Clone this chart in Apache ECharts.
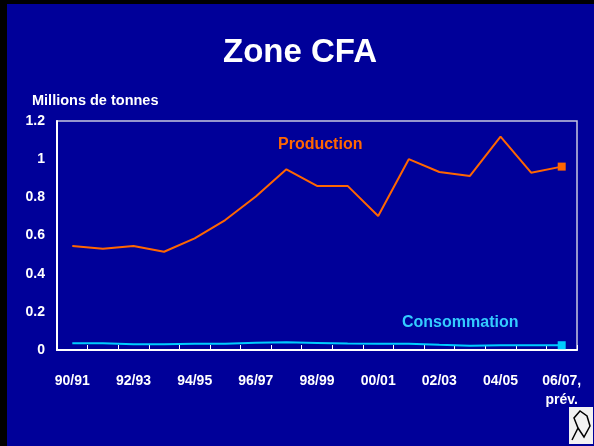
<!DOCTYPE html>
<html>
<head>
<meta charset="utf-8">
<script src="https://cdn.jsdelivr.net/npm/echarts@6/dist/echarts.min.js"></script>
<style>
  html, body { margin: 0; padding: 0; background: #000; }
  #chart { width: 594px; height: 446px; }
</style>
</head>
<body>
<div id="chart"></div>
<script>
const seasons = ['90/91', '91/92', '92/93', '93/94', '94/95', '95/96', '96/97', '97/98', '98/99',
  '99/00', '00/01', '01/02', '02/03', '03/04', '04/05', '05/06', '06/07,\nprév.'];
const production = [0.545, 0.531, 0.545, 0.515, 0.585, 0.681, 0.804, 0.947, 0.86,
  0.86, 0.702, 1.0, 0.933, 0.912, 1.118, 0.929, 0.961];
const consommation = [0.035, 0.035, 0.03, 0.03, 0.033, 0.033, 0.038, 0.04, 0.037,
  0.034, 0.033, 0.033, 0.027, 0.022, 0.025, 0.025, 0.025];
const yTicks = [0, 0.2, 0.4, 0.6, 0.8, 1, 1.2];

const font = 'Liberation Sans, Arial, sans-serif';
const chart = echarts.init(document.getElementById('chart'));

// only the forecast point gets a marker
const lastOnly = (arr, color) => arr.map((v, i) => i === arr.length - 1
  ? { value: v, symbol: 'rect', symbolSize: 8, itemStyle: { color } }
  : v);

chart.setOption({
  backgroundColor: '#000',
  animation: false,
  textStyle: { fontFamily: font },
  title: {
    text: 'Zone CFA',
    left: 218,
    top: 31,
    textStyle: { color: '#fff', fontSize: 33, fontWeight: 'bold', fontFamily: font }
  },
  graphic: [
    { type: 'rect', z: -10, shape: { x: 7, y: 4, width: 587, height: 442 }, style: { fill: '#000099' } },
    { type: 'text', left: 32, top: 93, style: { text: 'Millions de tonnes', fill: '#fff', font: 'bold 14.5px ' + font } },
    { type: 'text', left: 278, top: 137, style: { text: 'Production', fill: '#FF6600', font: 'bold 16px ' + font } },
    { type: 'text', left: 402, top: 315, style: { text: 'Consommation', fill: '#33CCFF', font: 'bold 16px ' + font } },
    { type: 'rect', shape: { x: 569, y: 407, width: 24, height: 37 }, style: { fill: '#f2f2f2' } },
    { type: 'polyline', shape: { points: [[572, 440], [578, 428], [574, 418], [580, 411], [587, 416], [590, 426], [584, 437], [578, 428]] },
      style: { stroke: '#000', lineWidth: 1.5, fill: null } }
  ],
  grid: {
    left: 57, top: 121, right: 17, bottom: 96,
    show: true, borderColor: '#c8c8e0', borderWidth: 1.5, containLabel: false
  },
  xAxis: {
    type: 'category',
    data: seasons,
    boundaryGap: true,
    axisLine: { lineStyle: { color: '#fff', width: 2 } },
    axisTick: { show: true, inside: true, length: 5, interval: 0, lineStyle: { color: '#fff' } },
    axisLabel: {
      interval: 1, color: '#fff', fontSize: 14, fontWeight: 'bold', margin: 22, lineHeight: 19,
      fontFamily: font
    },
    splitLine: { show: false }
  },
  yAxis: {
    type: 'value',
    min: yTicks[0],
    max: yTicks[yTicks.length - 1],
    interval: 0.2,
    axisLine: { show: true, lineStyle: { color: '#fff', width: 2 } },
    axisTick: { show: false },
    axisLabel: {
      color: '#fff', fontSize: 14, fontWeight: 'bold', margin: 12, fontFamily: font,
      formatter: v => String(Math.round(v * 10) / 10)
    },
    splitLine: { show: false }
  },
  series: [
    {
      name: 'Production',
      type: 'line',
      data: lastOnly(production, '#FF6600'),
      symbol: 'none',
      lineStyle: { color: '#FF6600', width: 2 },
      itemStyle: { color: '#FF6600' }
    },
    {
      name: 'Consommation',
      type: 'line',
      data: lastOnly(consommation, '#00CCFF'),
      symbol: 'none',
      lineStyle: { color: '#00CCFF', width: 2 },
      itemStyle: { color: '#00CCFF' }
    }
  ]
});
</script>
</body>
</html>
